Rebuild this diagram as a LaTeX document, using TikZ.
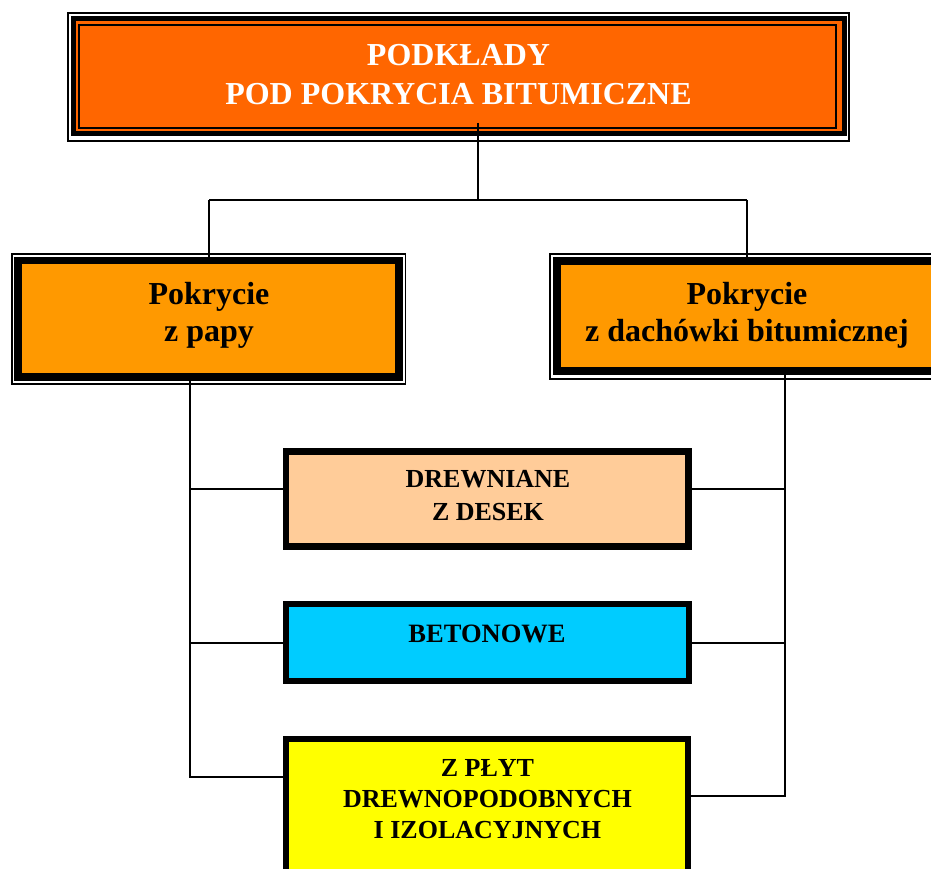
\documentclass[tikz,border=0pt]{standalone}
\usepackage{fontspec}
\setmainfont{Liberation Serif}
\definecolor{topor}{HTML}{FF6600}
\definecolor{secor}{HTML}{FF9900}
\definecolor{peach}{HTML}{FFCC99}
\definecolor{cyanbox}{HTML}{00CCFF}
\definecolor{yelbox}{HTML}{FFFF00}
\begin{document}
\begin{tikzpicture}[x=1pt,y=-1pt,
  box/.style={draw=black, rectangle, inner sep=0pt, outer sep=0pt},
  thinframe/.style={draw=black, line width=1.7pt},
  conn/.style={draw=black, line width=1.8pt},
  lbl/.style={anchor=base, inner sep=0pt, outer sep=0pt}]
\clip (0,0) rectangle (931,869);
\fill[white] (0,0) rectangle (931,869);
% top box
\node[box, fill=topor, line width=5pt, minimum width=771pt, minimum height=115.5pt] (top) at (458.5,76.25) {};
\draw[thinframe, line width=2pt] ([shift={(-5,-5.75)}]top.north west) rectangle ([shift={(4.5,7.3)}]top.south east);
\draw[thinframe, line width=2.3pt] ([shift={(6.2,6.5)}]top.north west) rectangle ([shift={(-7.8,-6.2)}]top.south east);
% second level
\node[box, fill=secor, line width=7.5pt, minimum width=381pt, minimum height=116.3pt] (papy) at (208.5,318.85) {};
\draw[thinframe] ([shift={(-6,-6.9)}]papy.north west) rectangle ([shift={(6.5,6.8)}]papy.south east);
\node[box, fill=secor, line width=8pt, minimum width=380.6pt, minimum height=110.3pt] (dach) at (747,315.65) {};
\draw[thinframe] ([shift={(-6.7,-6.2)}]dach.north west) rectangle ([shift={(6.7,8)}]dach.south east);
% third level
\node[box, fill=peach, line width=6.5pt, minimum width=402.3pt, minimum height=94.6pt] (drew) at (487.2,499) {};
\node[box, fill=cyanbox, line width=6pt, minimum width=402.5pt, minimum height=76.7pt] (beton) at (487.5,642.8) {};
\node[box, fill=yelbox, line width=6pt, minimum width=401.6pt, minimum height=161.2pt] (plyt) at (487,819.4) {};
% connectors
\coordinate (j0) at (477.7,123);
\coordinate (jL) at (209,200);
\coordinate (jR) at (747,200);
\coordinate (ld) at (190,489);
\coordinate (lb) at (190,777);
\coordinate (rd) at (785.3,489.3);
\coordinate (rb) at (785.3,796);
\draw[conn] (j0) -- (j0 |- jL);
\draw[conn] (jL) -- (jR);
\draw[conn] (jL) -- (jL |- papy.north);
\draw[conn] (jR) -- (jR |- dach.north);
\draw[conn] (papy.south -| lb) -- (lb) -- (plyt.west |- lb);
\draw[conn] (ld) -- (drew.west |- ld);
\draw[conn] (beton.west) -- (beton.west -| lb);
\draw[conn] (dach.south -| rb) -- (rb) -- (plyt.east |- rb);
\draw[conn] (rd) -- (drew.east |- rd);
\draw[conn] (beton.east) -- (beton.east -| rb);
% labels
\node[lbl, text=white, font=\bfseries\fontsize{32}{39}\selectfont] (t0) at (458.5,66)
  {\begin{tabular}[t]{@{}c@{}}PODKŁADY\\POD POKRYCIA BITUMICZNE\end{tabular}};
\node[lbl, font=\bfseries\fontsize{32}{37.5}\selectfont] (t1) at (209,304)
  {\begin{tabular}[t]{@{}c@{}}Pokrycie\\z papy\end{tabular}};
\node[lbl, font=\bfseries\fontsize{32}{37.5}\selectfont] (t2) at (747,304.3)
  {\begin{tabular}[t]{@{}c@{}}Pokrycie\\z dachówki bitumicznej\end{tabular}};
\node[lbl, font=\bfseries\fontsize{26}{33.3}\selectfont] (t3) at (488,487.5)
  {\begin{tabular}[t]{@{}c@{}}DREWNIANE\\Z DESEK\end{tabular}};
\node[lbl, font=\bfseries\fontsize{26.5}{32}\selectfont] (t4) at (487,642.3) {BETONOWE};
\node[lbl, font=\bfseries\fontsize{26}{31}\selectfont] (t5) at (487.5,776)
  {\begin{tabular}[t]{@{}c@{}}Z PŁYT\\DREWNOPODOBNYCH\\I IZOLACYJNYCH\end{tabular}};
\end{tikzpicture}
\end{document}
